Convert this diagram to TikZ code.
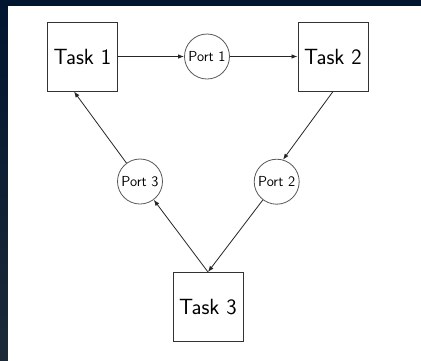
\documentclass[tikz,border=0pt]{standalone}
\usepackage{fontspec}
\usetikzlibrary{arrows.meta,calc}
\begin{document}
\begin{tikzpicture}[x=1pt,y=-1pt,
  taskbox/.style={draw=black!80,line width=1pt,rectangle,inner sep=0pt,
    minimum width=70pt,minimum height=69pt,font=\fontsize{22}{26}\selectfont\sffamily},
  portnode/.style={draw=black!65,line width=0.8pt,circle,inner sep=0pt,
    minimum size=45pt,font=\fontsize{14.5}{17}\selectfont\sffamily},
  arr/.style={draw=black!85,line width=0.8pt,-{Latex[length=6pt,width=4.5pt]}}]
\useasboundingbox (0,0) rectangle (421,360);
\shade[top color={rgb,255:red,0;green,21;blue,48},bottom color={rgb,255:red,28;green,42;blue,56}] (0,0) rectangle (421,360);
\fill[white] (8,6) rectangle (423,362);
\node[taskbox] (t1) at (82.5,56.5) {Task 1};
\node[taskbox] (t2) at (333,56.5) {Task 2};
\node[taskbox] (t3) at (208,307) {Task 3};
\node[portnode] (p1) at (207,56.5) {Port 1};
\node[portnode] (p2) at (276.7,181.7) {Port 2};
\node[portnode] (p3) at (140,181.5) {Port 3};
\coordinate (t1b) at ($(t1.south west)!0.38!(t1.south east)$);
\draw[arr] (t1.east) -- (p1.west);
\draw[arr] (p1.east) -- (t2.west);
\draw[arr] (t2.south) -- (p2.74);
\draw[arr] (p2) -- (t3.north);
\draw[arr] (t3.north) -- (p3);
\draw[arr] (p3) -- (t1b);
\end{tikzpicture}
\end{document}
